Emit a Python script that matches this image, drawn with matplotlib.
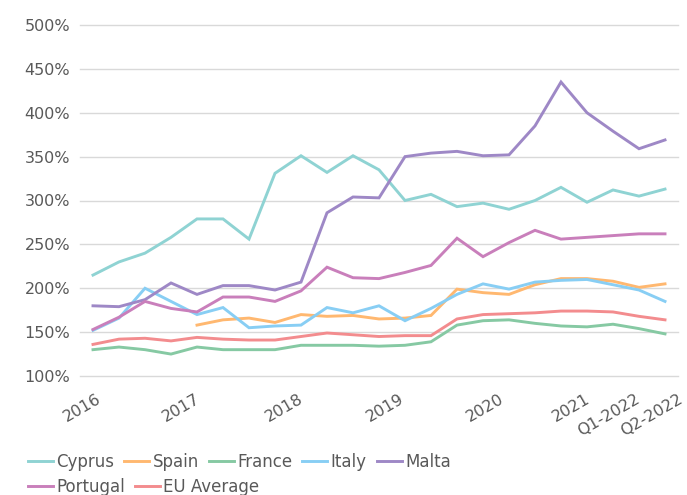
import numpy as np
import matplotlib
matplotlib.use('Agg')
from matplotlib import pyplot as plt
from matplotlib.lines import Line2D
import matplotlib.transforms as mtransforms

# quarterly values, Q1-2016 .. Q2-2022 (23 points)
cyprus = [215, 230, 240, 258, 279, 279, 256, 331, 351, 332, 351, 335, 300,
          307, 293, 297, 290, 300, 315, 298, 312, 305, 313]
spain = [None, None, None, None, 158, 164, 166, 161, 170, 168, 169, 165, 166,
         169, 199, 195, 193, 204, 211, 211, 208, 201, 205]
france = [130, 133, 130, 125, 133, 130, 130, 130, 135, 135, 135, 134, 135,
          139, 158, 163, 164, 160, 157, 156, 159, 154, 148]
italy = [152, 166, 200, 185, 170, 178, 155, 157, 158, 178, 172, 180, 163,
         177, 193, 205, 199, 207, 209, 210, 204, 198, 185]
malta = [180, 179, 187, 206, 193, 203, 203, 198, 207, 286, 304, 303, 350,
         354, 356, 351, 352, 385, 435, 400, 379, 359, 369]
portugal = [153, 167, 185, 177, 173, 190, 190, 185, 197, 224, 212, 211, 218,
            226, 257, 236, 252, 266, 256, 258, 260, 262, 262]
eu_avg = [136, 142, 143, 140, 144, 142, 141, 141, 145, 149, 147, 145, 146,
          146, 165, 170, 171, 172, 174, 174, 173, 168, 164]

tick_labels = ['2016', '2017', '2018', '2019', '2020', '2021', 'Q1-2022', 'Q2-2022']
tick_pos = [0, 3.8, 7.75, 11.65, 15.5, 18.8, 20.7, 22.35]

series = [('Cyprus', cyprus, '#8fd3d3'),
          ('Spain', spain, '#ffb870'),
          ('France', france, '#86c9a3'),
          ('Italy', italy, '#88cef4'),
          ('Malta', malta, '#9e88c6'),
          ('Portugal', portugal, '#c97fbb'),
          ('EU Average', eu_avg, '#f38c8e')]

grey = '#595959'
fig = plt.figure(figsize=(6.87, 4.95), dpi=100)
ax = fig.add_axes([80 / 687, 1 - 376 / 495, 598 / 687, 351 / 495])

x = np.arange(len(cyprus))
handles = []
for name, vals, col in series:
    y = np.array([np.nan if v is None else v for v in vals], dtype=float)
    ax.plot(x, y, color=col, lw=2.1, solid_joinstyle='miter')
    handles.append(Line2D([], [], color=col, lw=2.1))

ax.set_xlim(-0.5, len(cyprus) - 0.5)
ax.set_ylim(100, 500)
ax.set_yticks(np.arange(100, 501, 50))
ax.set_yticklabels([f'{v}%' for v in range(100, 501, 50)])
ax.grid(axis='y', color='#d9d9d9', lw=1)
for gl in ax.get_ygridlines():
    gl.set_clip_on(False)
ax.set_axisbelow(True)
for s in ax.spines.values():
    s.set_visible(False)

ax.set_xticks(tick_pos)
ax.set_xticklabels(tick_labels, rotation=30, ha='right', va='center',
                   rotation_mode='anchor')
ax.tick_params(axis='x', length=0, pad=16, labelsize=11.5, labelcolor=grey)
ax.tick_params(axis='y', length=0, pad=7, labelsize=11.5, labelcolor=grey)
shift = mtransforms.ScaledTranslation(7 / 100, 0, fig.dpi_scale_trans)
for lab in ax.get_xticklabels():
    lab.set_transform(lab.get_transform() + shift)

leg_kw = dict(frameon=False, handlelength=1.5, handletextpad=0.2,
              columnspacing=0.6, borderpad=0, borderaxespad=0,
              labelcolor=grey, prop={'size': 12})
names = [s[0] for s in series]
fig.legend(handles[:5], names[:5], ncol=5, loc='center left',
           bbox_to_anchor=(28 / 687, 1 - 462 / 495), **leg_kw)
fig.legend(handles[5:], names[5:], ncol=2, loc='center left',
           bbox_to_anchor=(28 / 687, 1 - 487 / 495), **leg_kw)

fig.savefig('out.png', dpi=100)
